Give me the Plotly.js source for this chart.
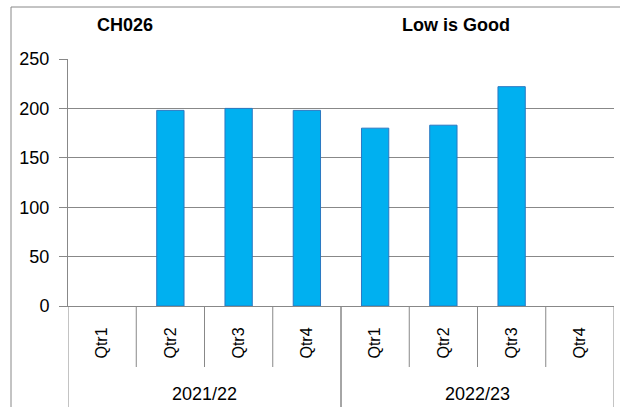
<!DOCTYPE html>
<html>
<head>
<meta charset="utf-8">
<script src="https://cdn.plot.ly/plotly-3.0.1.min.js"></script>
<style>html,body{margin:0;padding:0;background:#fff;}#chart{width:620px;height:407px;}</style>
</head>
<body>
<div id="chart"></div>
<script>
const years = ["2021/22","2021/22","2021/22","2021/22","2022/23","2022/23","2022/23","2022/23"];
const quarters = ["Qtr1","Qtr2","Qtr3","Qtr4","Qtr1","Qtr2","Qtr3","Qtr4"];
const values = [null, 198, 200, 198, 180, 183, 222, null];
const yearGroups = ["2021/22", "2022/23"];
const chartCode = "CH026";
const note = "Low is Good";

const grey = "#888888";
const font = "Liberation Sans, Arial, sans-serif";

const keys = years.map((y, i) => y + " " + quarters[i]);

const trace = {
  type: "bar",
  x: keys,
  y: values,
  marker: {color: "#00B0F0", line: {color: "#2A78C2", width: 1}},
  hoverinfo: "skip"
};

// plot area geometry (px)
const L = 68, R = 6, T = 59, B = 101, W = 620, H = 407;
const pw = W - L - R, ph = H - T - B;

const annotations = [
  {text: "<b>" + chartCode + "</b>", xref: "paper", yref: "paper", x: (125-L)/pw, y: 1 + (T-25)/ph, showarrow: false, xanchor: "center", yanchor: "middle", font: {family: font, size: 18}},
  {text: "<b>" + note + "</b>", xref: "paper", yref: "paper", x: (456-L)/pw, y: 1 + (T-25)/ph, showarrow: false, xanchor: "center", yanchor: "middle", font: {family: font, size: 18}}
];
const shapes = [
  {type: "line", xref: "paper", yref: "paper", x0: (11-L)/pw, x1: (11-L)/pw, y0: 1 + (T-7)/ph, y1: -B/ph, line: {color: grey, width: 1}},
  {type: "line", xref: "paper", yref: "paper", x0: (11-L)/pw, x1: 1.02, y0: 1 + (T-7)/ph, y1: 1 + (T-7)/ph, line: {color: grey, width: 1}}
];
// inner category separators (between quarters of the same year)
for (let i = 0; i < keys.length - 1; i++) {
  if (years[i] === years[i + 1]) {
    shapes.push({type: "line", xref: "x", yref: "paper", x0: i + 0.5, x1: i + 0.5, y0: 0, y1: -61 / ph,
      line: {color: grey, width: 1}});
  }
}
// year group labels and dividers
yearGroups.forEach(g => {
  const idx = years.map((y, i) => y === g ? i : -1).filter(i => i >= 0);
  const first = idx[0], last = idx[idx.length - 1];
  annotations.push({text: g, xref: "x", yref: "paper", x: (first + last) / 2, y: -(394 - T - ph) / ph,
    showarrow: false, xanchor: "center", yanchor: "middle", font: {family: font, size: 18}});
  [first - 0.5, last + 0.5].forEach(xv => shapes.push({type: "line", xref: "x", yref: "paper",
    x0: xv, x1: xv, y0: 0, y1: -B / ph, line: {color: grey, width: 1}}));
});

const layout = {
  width: W, height: H,
  margin: {l: L, r: R, t: T, b: B},
  paper_bgcolor: "#fff", plot_bgcolor: "#fff",
  showlegend: false,
  bargap: 0.6,
  font: {family: font, size: 18, color: "#000"},
  xaxis: {
    type: "category",
    tickmode: "array", tickvals: keys, ticktext: quarters,
    range: [-0.5, keys.length - 0.5],
    showgrid: false,
    showline: true, linecolor: grey, linewidth: 1,
    ticks: "",
    tickangle: -90,
    tickfont: {family: font, size: 16},
    ticklabelstandoff: 14
  },
  yaxis: {
    range: [0, 250], dtick: 50, tick0: 0,
    showgrid: true, gridcolor: grey, gridwidth: 1,
    showline: true, linecolor: grey, linewidth: 1,
    ticks: "outside", ticklen: 8, tickcolor: grey,
    tickfont: {family: font, size: 18},
    ticklabelstandoff: 6,
    zeroline: false
  },
  annotations: annotations,
  shapes: shapes
};

Plotly.newPlot("chart", [trace], layout, {displayModeBar: false, staticPlot: true});
</script>
</body>
</html>
